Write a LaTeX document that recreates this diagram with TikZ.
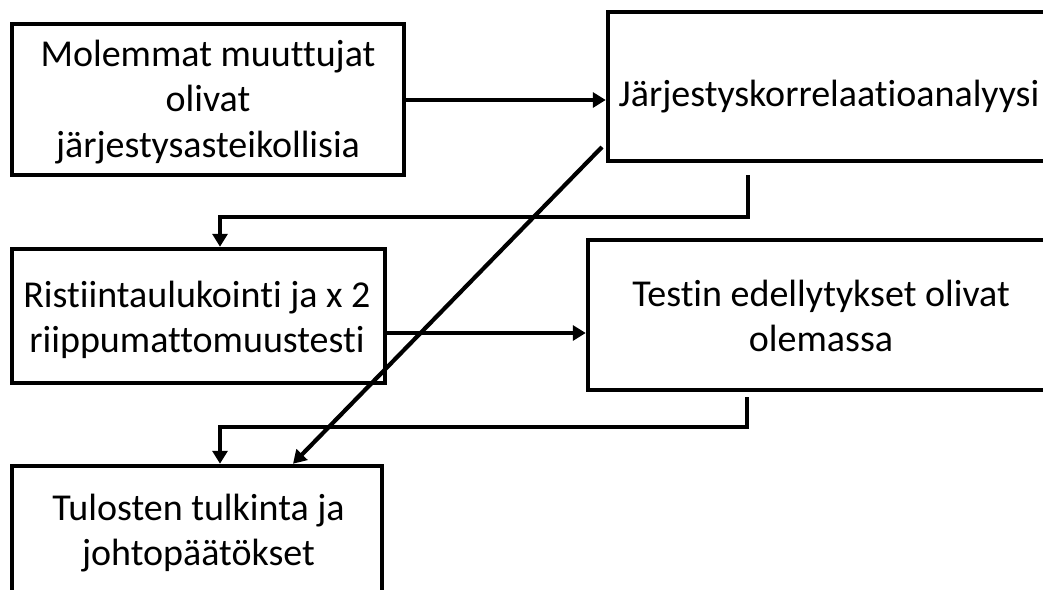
\documentclass[tikz,border=0pt]{standalone}
\usepackage{fontspec}
\setmainfont[Ligatures=NoCommon]{Carlito}
\usetikzlibrary{arrows.meta}
\begin{document}
\begin{tikzpicture}[x=1pt, y=-1pt,
  box/.style={draw=black, line width=4.5pt, rectangle, inner sep=0pt, fill=white},
  txt/.style={align=center, inner sep=0pt, font=\fontsize{38}{45.5}\selectfont},
  conn/.style={line width=4.2pt, -{Triangle[length=13pt,width=15pt]}}]
\path[use as bounding box] (0,0) rectangle (1043,589);
\clip (0,0) rectangle (1043,589);
\fill[white] (0,0) rectangle (1043,589);

% boxes
\node[box, minimum width=392pt, minimum height=151pt] (b1) at (208,99.5) {};
\node[box, minimum width=460pt, minimum height=149pt] (b2) at (838,86.5) {};
\node[box, minimum width=373pt, minimum height=134pt] (b3) at (198.5,316) {};
\node[box, minimum width=480pt, minimum height=150pt] (b4) at (828,315) {};
\node[box, minimum width=370pt, minimum height=160pt] (b5) at (197,546) {};

% texts
\node[txt] (t1) at (208,102) {Molemmat muuttujat\\olivat\\järjestysasteikollisia};
\node[txt] (t2) at (829,97) {Järjestyskorrelaatioanalyysi};
\node[txt] (t3) at (197,320) {Ristiintaulukointi ja x 2\\riippumattomuustesti};
\node[txt] (t4) at (821,316) {Testin edellytykset olivat\\olemassa};
\node[txt] (t5) at (198.5,533) {Tulosten tulkinta ja\\johtopäätökset};

% connectors
\draw[conn] (b1.east |- 0,100) -- (b2.west |- 0,100);
\draw[conn] ([yshift=-17pt]b3.east) -- (b4.west |- 0,333);

\coordinate (e1) at (748,175);
\draw[conn] (e1) -- (748,217) -- (220,217) -- (b3.north -| 220,0);

\coordinate (e2) at (747,397);
\draw[conn] (e2) -- (747,427) -- (220,427) -- (b5.north -| 220,0);

\coordinate (d1) at (602,147);
\draw[conn] (d1) -- (b5.north -| 293,0);
\end{tikzpicture}
\end{document}
